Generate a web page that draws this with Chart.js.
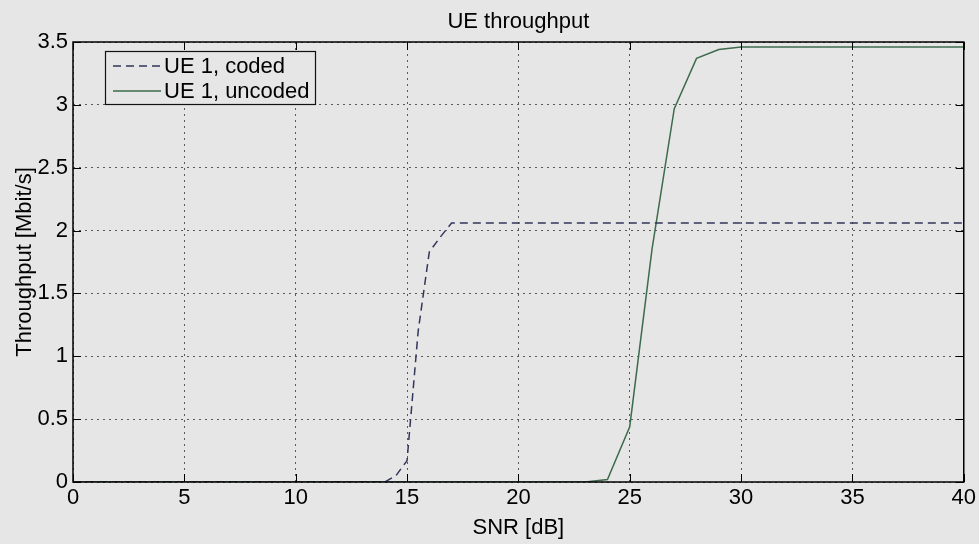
<!DOCTYPE html>
<html>
<head>
<meta charset="utf-8">
<script src="https://cdn.jsdelivr.net/npm/chart.js@4"></script>
<style>
	html, body { margin: 0; padding: 0; background: #e6e6e6; }
	#wrap { width: 979px; height: 544px; }
</style>
</head>
<body>
<div id="wrap"><canvas id="c"></canvas></div>
<script>
// values
const chartTitle = 'UE throughput';
const xTitle = 'SNR [dB]';
const yTitle = 'Throughput [Mbit/s]';
const xTicks = [0, 5, 10, 15, 20, 25, 30, 35, 40];
const yTicks = [0, 0.5, 1, 1.5, 2, 2.5, 3, 3.5];

const snrCoded = [0, 14, 14.5, 15, 15.5, 16, 16.5, 17, 40];
const coded = [0, 0, 0.05, 0.17, 1.2, 1.83, 1.95, 2.06, 2.06];
const snrUncoded = [0, 23, 24, 25, 26, 27, 28, 29, 30, 40];
const uncoded = [0, 0, 0.02, 0.44, 1.85, 2.97, 3.37, 3.44, 3.46, 3.46];

const FONT = '"Liberation Sans", Arial, Helvetica, sans-serif';
const BG = '#e6e6e6';

const toPoints = (xs, ys) => xs.map((x, i) => ({x: x, y: ys[i]}));

// background, title, frame with inward ticks, and the boxed legend
const matlabLook = {
	id: 'matlabLook',
	beforeDraw: function (chart) {
		const ctx = chart.ctx;
		ctx.save();
		ctx.fillStyle = BG;
		ctx.fillRect(0, 0, chart.width, chart.height);
		ctx.restore();
	},
	afterDraw: function (chart) {
		const ctx = chart.ctx;
		const a = chart.chartArea;
		const xs = chart.scales.x;
		const ys = chart.scales.y;
		ctx.save();

		ctx.fillStyle = '#000';
		ctx.font = '22px ' + FONT;
		ctx.textAlign = 'center';
		ctx.textBaseline = 'middle';
		ctx.fillText(chartTitle, (a.left + a.right) / 2, 22);

		ctx.strokeStyle = '#000';
		ctx.lineWidth = 1;
		ctx.beginPath();
		const tl = 8;
		xTicks.forEach((v) => {
			const px = Math.round(xs.getPixelForValue(v)) + 0.5;
			ctx.moveTo(px, a.bottom); ctx.lineTo(px, a.bottom - tl);
			ctx.moveTo(px, a.top); ctx.lineTo(px, a.top + tl);
		});
		yTicks.forEach((v) => {
			const py = Math.round(ys.getPixelForValue(v)) + 0.5;
			ctx.moveTo(a.left, py); ctx.lineTo(a.left + tl, py);
			ctx.moveTo(a.right, py); ctx.lineTo(a.right - tl, py);
		});
		ctx.stroke();
		ctx.lineWidth = 1.5;
		ctx.strokeRect(a.left, a.top, a.right - a.left, a.bottom - a.top);

		// legend box
		const bx = a.left + 32, by = a.top + 9, bw = 210, bh = 53;
		ctx.fillStyle = BG;
		ctx.fillRect(bx, by, bw, bh);
		ctx.lineWidth = 1.2;
		ctx.strokeStyle = '#111';
		ctx.strokeRect(bx + 0.5, by + 0.5, bw, bh);
		ctx.font = '22px ' + FONT;
		ctx.textAlign = 'left';
		chart.data.datasets.forEach((ds, i) => {
			const ly = by + 15 + i * 25;
			ctx.strokeStyle = ds.borderColor;
			ctx.lineWidth = ds.borderWidth;
			ctx.setLineDash(ds.borderDash || []);
			ctx.beginPath();
			ctx.moveTo(bx + 8, ly);
			ctx.lineTo(bx + 56, ly);
			ctx.stroke();
			ctx.setLineDash([]);
			ctx.fillStyle = '#000';
			ctx.fillText(ds.label, bx + 59, ly + 1);
		});
		ctx.restore();
	}
};

const tickFont = {family: FONT, size: 22};

new Chart(document.getElementById('c'), {
	type: 'line',
	data: {
		datasets: [{
			label: 'UE 1, coded',
			data: toPoints(snrCoded, coded),
			borderColor: '#33365a',
			borderWidth: 1.5,
			borderDash: [8, 5],
			pointRadius: 0,
			tension: 0
		}, {
			label: 'UE 1, uncoded',
			data: toPoints(snrUncoded, uncoded),
			borderColor: '#3d6b4c',
			borderWidth: 1.5,
			pointRadius: 0,
			tension: 0
		}]
	},
	options: {
		responsive: true,
		maintainAspectRatio: false,
		animation: false,
		layout: { padding: { left: 0, right: 12, top: 42, bottom: 0 } },
		plugins: {
			legend: { display: false },
			title: { display: false },
			tooltip: { enabled: false }
		},
		scales: {
			x: {
				type: 'linear',
				min: 0,
				max: 40,
				afterBuildTicks: (s) => { s.ticks = xTicks.map((v) => ({value: v})); },
				afterFit: (s) => { s.height = 62; },
				ticks: { color: '#000', font: tickFont, padding: 3, maxRotation: 0, callback: (v) => String(v) },
				grid: { color: '#5a5a5a', lineWidth: 1, drawTicks: false },
				border: { display: false, dash: [2, 4] },
				title: { display: true, text: xTitle, color: '#000', font: tickFont, padding: { top: 0, bottom: 3 } }
			},
			y: {
				min: 0,
				max: 3.5,
				afterBuildTicks: (s) => { s.ticks = yTicks.map((v) => ({value: v})); },
				afterFit: (s) => { s.width = 73; },
				ticks: { color: '#000', font: tickFont, padding: 5, callback: (v) => String(v) },
				grid: { color: '#5a5a5a', lineWidth: 1, drawTicks: false },
				border: { display: false, dash: [2, 4] },
				title: { display: true, text: yTitle, color: '#000', font: tickFont, padding: { top: 12, bottom: 0 } }
			}
		}
	},
	plugins: [matlabLook]
});
</script>
</body>
</html>
